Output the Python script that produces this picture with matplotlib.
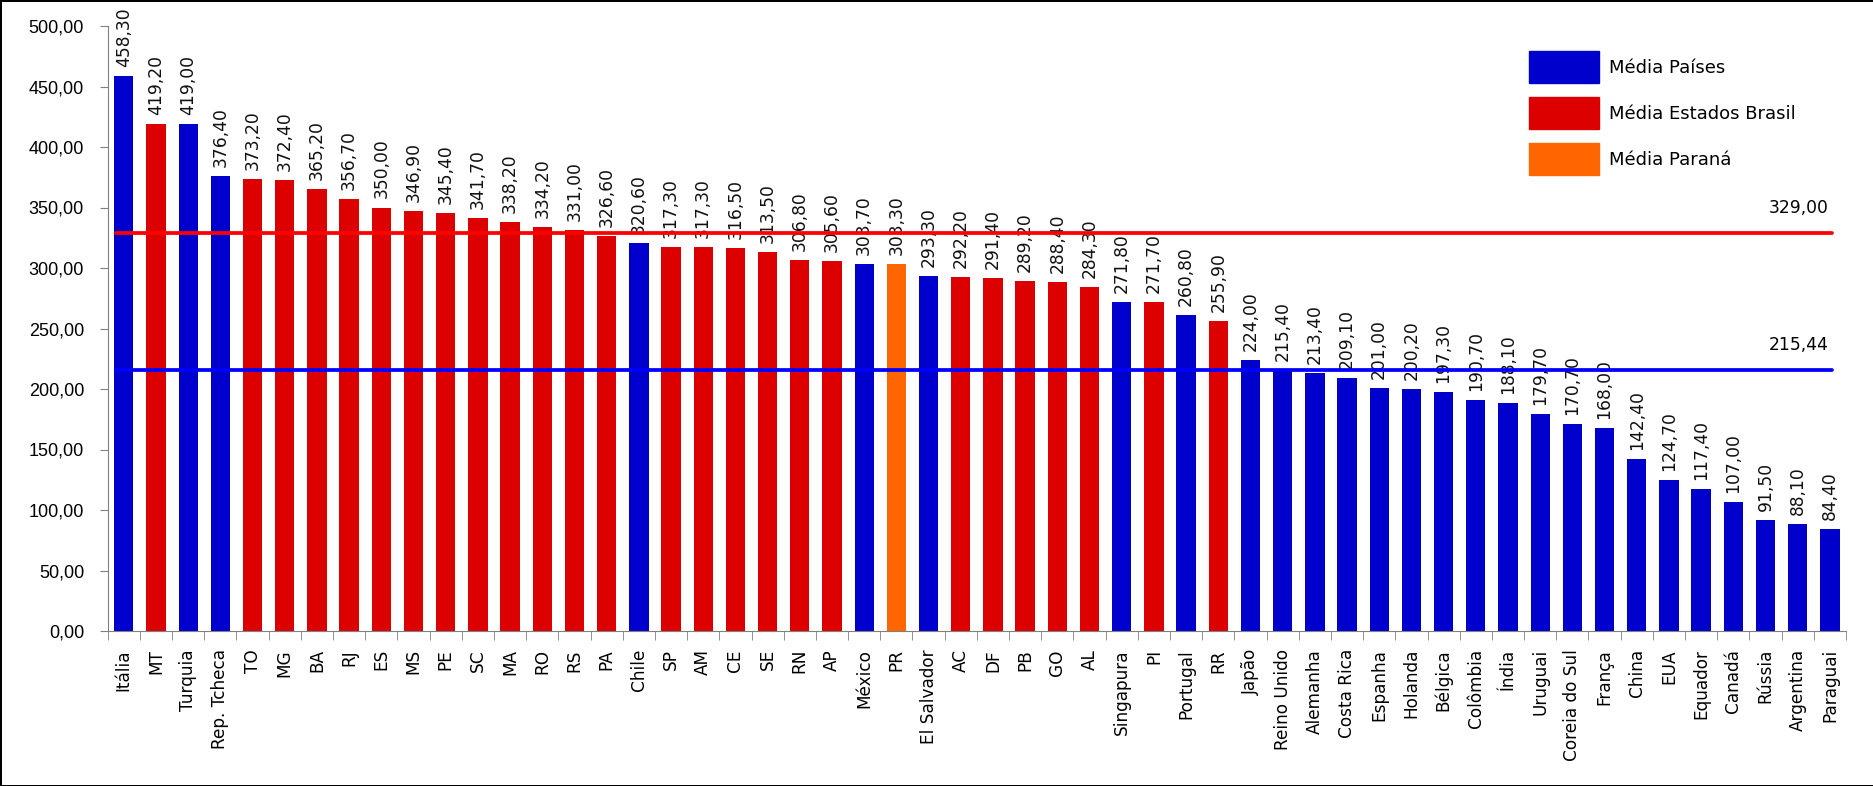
import numpy as np
import matplotlib
matplotlib.use("Agg")
import matplotlib.pyplot as plt
from matplotlib.patches import Patch


# =========================
# data
# =========================
labels = ["Itália", "MT", "Turquia", "Rep. Tcheca", "TO", "MG", "BA", "RJ", "ES", "MS",
          "PE", "SC", "MA", "RO", "RS", "PA", "Chile", "SP", "AM", "CE",
          "SE", "RN", "AP", "México", "PR", "El Salvador", "AC", "DF", "PB", "GO",
          "AL", "Singapura", "PI", "Portugal", "RR", "Japão", "Reino Unido", "Alemanha", "Costa Rica", "Espanha",
          "Holanda", "Bélgica", "Colômbia", "Índia", "Uruguai", "Coreia do Sul", "França", "China", "EUA", "Equador",
          "Canadá", "Rússia", "Argentina", "Paraguai"]

values = [458.30, 419.20, 419.00, 376.40, 373.20, 372.40, 365.20, 356.70, 350.00, 346.90,
          345.40, 341.70, 338.20, 334.20, 331.00, 326.60, 320.60, 317.30, 317.30, 316.50,
          313.50, 306.80, 305.60, 303.70, 303.30, 293.30, 292.20, 291.40, 289.20, 288.40,
          284.30, 271.80, 271.70, 260.80, 255.90, 224.00, 215.40, 213.40, 209.10, 201.00,
          200.20, 197.30, 190.70, 188.10, 179.70, 170.70, 168.00, 142.40, 124.70, 117.40,
          107.00, 91.50, 88.10, 84.40]

# p = país, e = estado brasileiro, r = Paraná
groups = ["p", "e", "p", "p", "e", "e", "e", "e", "e", "e",
          "e", "e", "e", "e", "e", "e", "p", "e", "e", "e",
          "e", "e", "e", "p", "r", "p", "e", "e", "e", "e",
          "e", "p", "e", "p", "e", "p", "p", "p", "p", "p",
          "p", "p", "p", "p", "p", "p", "p", "p", "p", "p",
          "p", "p", "p", "p"]

media_estados = 329.00
media_paises = 215.44

legend_labels = ["Média Países", "Média Estados Brasil", "Média Paraná"]

# =========================
# style
# =========================
group_colors = {"p": "#0000CC", "e": "#DD0000", "r": "#FF6600"}
plt.rcParams["font.family"] = ["DejaVu Sans"]


def fmt(v):
    return f"{v:.2f}".replace(".", ",")


fig = plt.figure(figsize=(18.74, 7.86), dpi=100)
fig.patch.set_edgecolor("black")
fig.patch.set_linewidth(2)
ax = fig.add_axes([107.7 / 1874, 1 - 631 / 786, (1846 - 107.7) / 1874, (631 - 26) / 786])

x = np.arange(len(labels))
colors = [group_colors[g] for g in groups]
bars = ax.bar(x, values, width=0.6, color=colors, zorder=2)

# value labels
for xi, v in zip(x, values):
    ax.annotate(fmt(v), xy=(xi, v), xytext=(0, 9), textcoords="offset pixels",
                rotation=90, ha="center", va="bottom", fontsize=12.3,
                color="#111111", annotation_clip=False)

# average lines
x0, x1 = -0.24, 53.07
ax.plot([x0, x1], [media_estados, media_estados], color="#FF0000", lw=2.7,
        solid_capstyle="round", zorder=3)
ax.plot([x0, x1], [media_paises, media_paises], color="#0000FF", lw=2.7,
        solid_capstyle="round", zorder=3)
ax.annotate(fmt(media_estados), xy=(x1, media_estados), xytext=(-4, 20),
            textcoords="offset pixels", ha="right", va="baseline", fontsize=12.3)
ax.annotate(fmt(media_paises), xy=(x1, media_paises), xytext=(-4, 20),
            textcoords="offset pixels", ha="right", va="baseline", fontsize=12.3)

# =========================
# axes
# =========================
ax.set_xlim(-0.5, len(labels) - 0.5)
ax.set_ylim(0, 500)
ax.set_yticks(np.arange(0, 501, 50))
ax.set_yticklabels([fmt(t) for t in np.arange(0, 501, 50)],
                   fontfamily="Liberation Sans", fontsize=13)
ax.set_xticks(x)
ax.set_xticklabels(labels, rotation=90, fontsize=12.2)
ax.set_xticks(np.arange(-0.5, len(labels)), minor=True)

ax.spines["top"].set_visible(False)
ax.spines["right"].set_visible(False)
ax.spines["left"].set_color("#808080")
ax.spines["bottom"].set_color("#808080")
ax.tick_params(axis="y", length=6, color="#808080", pad=11)
ax.tick_params(axis="x", which="major", length=0, pad=13)
ax.tick_params(axis="x", which="minor", length=6.5, color="#808080")

handles = [Patch(color=group_colors[k]) for k in ["p", "e", "r"]]
fig.legend(handles, legend_labels, loc="upper left",
           bbox_to_anchor=(1529 / 1874, 1 - 51 / 786), frameon=False,
           fontsize=13, handlelength=3.88, handleheight=2.35,
           labelspacing=0.78, handletextpad=0.55, borderpad=0, borderaxespad=0)

fig.savefig("out.png", dpi=100, edgecolor=fig.get_edgecolor())
